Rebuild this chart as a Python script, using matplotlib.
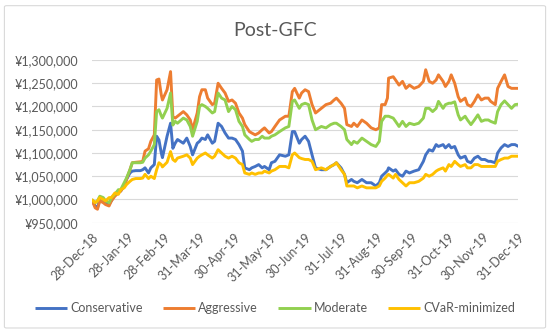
import matplotlib
matplotlib.use("Agg")
import matplotlib.pyplot as plt
import matplotlib.dates as mdates
from matplotlib.ticker import FuncFormatter, MultipleLocator
from matplotlib.patches import FancyBboxPatch
import pandas as pd

plt.rcParams['font.family'] = ['Lato', 'DejaVu Sans']

start_date = "2018-12-28"
day_offsets = [0, 3, 5, 7, 10, 12, 15, 17, 20, 23, 25, 28, 30, 33, 35, 38, 42, 44, 46, 49,
               51, 54, 56, 58, 60, 61, 65, 68, 70, 72, 74, 79, 82, 85, 87, 91, 93, 95, 98, 100,
               104, 106, 109, 112, 115, 118, 121, 124, 127, 130, 132, 136, 138, 141, 144, 147, 149, 153, 155, 158,
               162, 167, 170, 173, 175, 179, 181, 184, 187, 190, 193, 198, 202, 206, 209, 211, 215, 218, 220, 224,
               226, 229, 233, 237, 241, 245, 248, 250, 253, 255, 256, 260, 262, 265, 268, 271, 274, 278, 282, 286,
               288, 291, 294, 297, 299, 303, 305, 308, 310, 313, 316, 318, 322, 324, 327, 330, 333, 336, 339, 342,
               344, 348, 350, 353, 356, 359, 362, 365, 368]

conservative = [1000, 986, 982, 1000, 997, 993, 990, 997, 1011, 1018, 1018, 1029, 1043, 1057, 1061, 1062, 1062, 1064, 1068, 1057,
                1068, 1075, 1136, 1128, 1100, 1090, 1136, 1164, 1110, 1121, 1129, 1121, 1132, 1114, 1096, 1121, 1125, 1132, 1129, 1139,
                1121, 1125, 1164, 1157, 1143, 1132, 1132, 1129, 1118, 1104, 1068, 1064, 1068, 1071, 1075, 1068, 1071, 1064, 1079, 1082,
                1096, 1093, 1096, 1146, 1146, 1121, 1129, 1136, 1125, 1096, 1068, 1064, 1064, 1071, 1075, 1079, 1068, 1054, 1036, 1043,
                1039, 1036, 1043, 1036, 1036, 1029, 1036, 1050, 1057, 1062, 1068, 1061, 1064, 1054, 1050, 1061, 1057, 1061, 1064, 1082,
                1096, 1107, 1104, 1118, 1114, 1118, 1111, 1118, 1111, 1114, 1096, 1089, 1093, 1082, 1079, 1089, 1093, 1086, 1086, 1082,
                1082, 1079, 1100, 1111, 1118, 1114, 1118, 1118, 1114]

aggressive = [1000, 982, 979, 997, 993, 989, 986, 997, 1007, 1014, 1018, 1029, 1043, 1064, 1079, 1080, 1081, 1082, 1104, 1109,
              1125, 1139, 1257, 1259, 1225, 1214, 1236, 1275, 1178, 1175, 1179, 1189, 1182, 1171, 1150, 1186, 1221, 1236, 1236, 1218,
              1204, 1207, 1250, 1239, 1229, 1211, 1214, 1207, 1186, 1175, 1161, 1146, 1143, 1139, 1143, 1150, 1154, 1143, 1146, 1157,
              1171, 1179, 1179, 1232, 1239, 1218, 1229, 1236, 1232, 1204, 1186, 1196, 1204, 1207, 1214, 1218, 1207, 1196, 1161, 1157,
              1164, 1157, 1171, 1164, 1154, 1150, 1154, 1204, 1204, 1218, 1261, 1264, 1257, 1246, 1254, 1239, 1246, 1239, 1243, 1254,
              1279, 1254, 1250, 1257, 1268, 1254, 1243, 1254, 1268, 1250, 1221, 1211, 1218, 1204, 1200, 1211, 1225, 1214, 1218, 1218,
              1211, 1204, 1239, 1254, 1268, 1243, 1239, 1239, 1239]

moderate = [1000, 993, 997, 1007, 1004, 997, 993, 1004, 1011, 1021, 1021, 1036, 1046, 1064, 1079, 1079, 1079, 1080, 1089, 1096,
            1104, 1118, 1189, 1193, 1180, 1175, 1196, 1229, 1160, 1168, 1164, 1175, 1171, 1157, 1136, 1168, 1200, 1204, 1200, 1196,
            1186, 1189, 1229, 1218, 1214, 1189, 1200, 1193, 1168, 1157, 1139, 1129, 1125, 1129, 1129, 1136, 1132, 1132, 1136, 1139,
            1146, 1154, 1157, 1211, 1214, 1196, 1204, 1207, 1204, 1171, 1150, 1157, 1154, 1161, 1164, 1164, 1157, 1150, 1129, 1118,
            1125, 1121, 1132, 1125, 1118, 1114, 1125, 1168, 1179, 1179, 1179, 1175, 1168, 1157, 1168, 1157, 1164, 1161, 1164, 1175,
            1196, 1196, 1189, 1196, 1211, 1196, 1204, 1207, 1207, 1210, 1182, 1171, 1179, 1171, 1161, 1171, 1182, 1168, 1171, 1171,
            1168, 1164, 1189, 1204, 1212, 1204, 1196, 1204, 1205]

cvar_min = [1000, 993, 997, 1004, 1000, 997, 1004, 1004, 1014, 1011, 1021, 1025, 1032, 1039, 1043, 1045, 1045, 1046, 1054, 1045,
            1050, 1045, 1064, 1079, 1075, 1070, 1080, 1103, 1086, 1082, 1089, 1093, 1096, 1089, 1075, 1089, 1093, 1096, 1100, 1096,
            1089, 1093, 1107, 1100, 1093, 1089, 1093, 1089, 1079, 1075, 1057, 1054, 1057, 1054, 1057, 1057, 1061, 1057, 1061, 1064,
            1071, 1071, 1068, 1096, 1100, 1090, 1088, 1086, 1086, 1082, 1064, 1068, 1064, 1071, 1075, 1079, 1064, 1054, 1029, 1029,
            1029, 1025, 1029, 1025, 1025, 1025, 1029, 1039, 1046, 1052, 1054, 1046, 1054, 1043, 1036, 1029, 1036, 1036, 1039, 1046,
            1054, 1050, 1054, 1061, 1064, 1068, 1061, 1075, 1071, 1082, 1075, 1071, 1075, 1068, 1068, 1075, 1075, 1071, 1071, 1071,
            1071, 1071, 1082, 1086, 1089, 1089, 1093, 1093, 1093]

series_names = ["Conservative", "Aggressive", "Moderate", "CVaR-minimized"]
series_values = [conservative, aggressive, moderate, cvar_min]
colors = ["#4472C4", "#ED7D31", "#92D050", "#FFC000"]

tick_labels = ["28-Dec-18", "28-Jan-19", "28-Feb-19", "31-Mar-19", "30-Apr-19", "31-May-19",
               "30-Jun-19", "31-Jul-19", "31-Aug-19", "30-Sep-19", "31-Oct-19", "30-Nov-19", "31-Dec-19"]

dates = pd.Timestamp(start_date) + pd.to_timedelta(day_offsets, unit="D")
tick_dates = pd.to_datetime(tick_labels, format="%d-%b-%y")

fig = plt.figure(figsize=(5.5, 3.34), dpi=100)
ax = fig.add_axes([0.1667, 0.3332, 0.776, 0.4872])

for name, vals, c in zip(series_names, series_values, colors):
    ax.plot(dates, [v * 1000 for v in vals], color=c, lw=2.1, label=name,
            solid_joinstyle="round", solid_capstyle="butt")

ax.set_ylim(950000, 1300000)
ax.set_xlim(pd.Timestamp(start_date), tick_dates[-1])
ax.yaxis.set_major_locator(MultipleLocator(50000))
ax.yaxis.set_major_formatter(FuncFormatter(lambda v, p: "\u00a5{:,.0f}".format(v)))
ax.set_xticks(tick_dates)
ax.set_xticklabels(tick_labels, rotation=45, ha="right", va="top", rotation_mode="anchor")
ax.grid(axis="y", color="#d9d9d9", lw=0.8)
ax.set_axisbelow(True)
for s in ax.spines.values():
    s.set_visible(False)
ax.tick_params(axis="both", length=0, labelsize=9, colors="#595959")
ax.tick_params(axis="x", pad=6)
ax.tick_params(axis="y", pad=10)

fig.text(0.5, 0.91, "Post-GFC", ha="center", va="center", fontsize=14, color="#595959")

leg = fig.legend(loc="center", bbox_to_anchor=(0.5, 0.078), ncol=4, frameon=False,
                 fontsize=9, handlelength=2.6, handletextpad=0.25, columnspacing=1.6)
for t in leg.get_texts():
    t.set_color("#595959")

border = FancyBboxPatch((0.008, 0.018), 0.984, 0.965, boxstyle="round,pad=0,rounding_size=0.004",
                        transform=fig.transFigure, fill=False, edgecolor="#d9d9d9", lw=0.8)
fig.patches.append(border)

fig.savefig("out.png", dpi=100)
